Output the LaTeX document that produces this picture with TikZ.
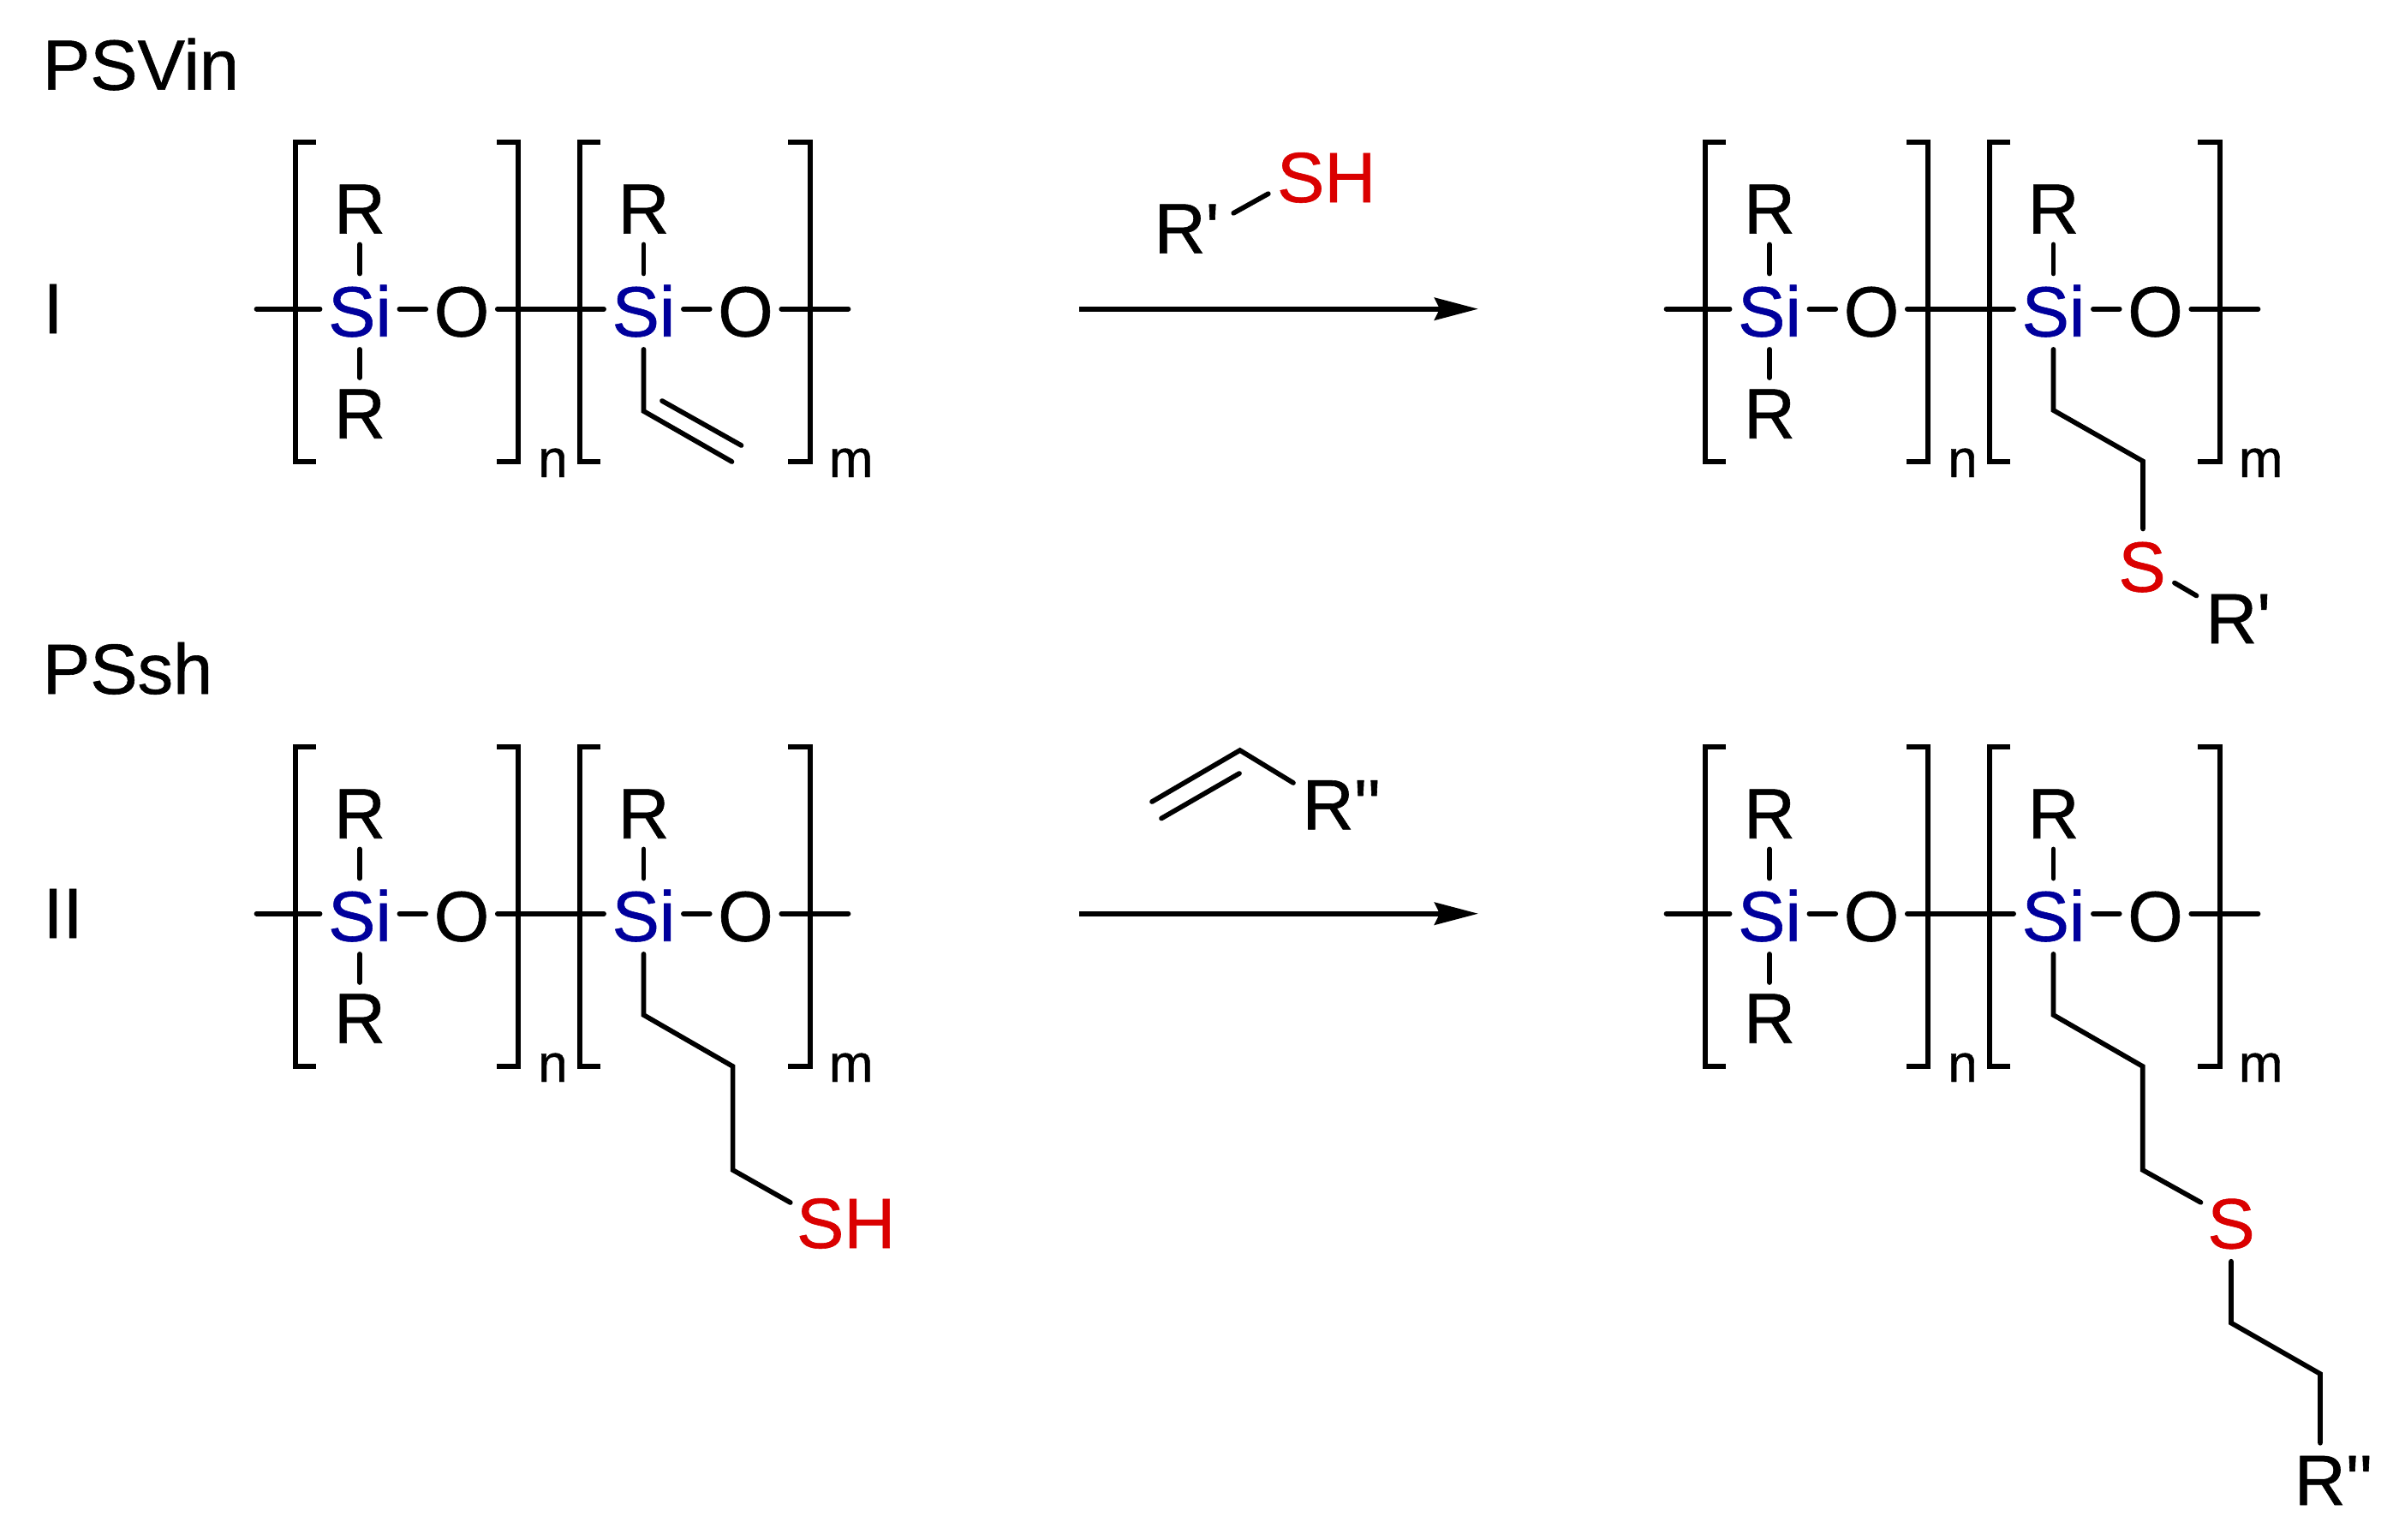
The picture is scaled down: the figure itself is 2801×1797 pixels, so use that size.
\documentclass[tikz,border=0pt]{standalone}
\usepackage{fontspec}
\setmainfont{Liberation Sans}[Ligatures=TeXOff,FakeBold=0.7]
\usetikzlibrary{arrows.meta}
\definecolor{siblue}{RGB}{0,0,156}
\definecolor{sred}{RGB}{218,0,0}
\tikzset{
  bond/.style={line width=5.7pt,line cap=round,line join=miter},
  brk/.style={line width=5.7pt,line cap=butt,line join=miter},
  txt/.style={inner sep=0pt,font=\fontsize{83pt}{90pt}\selectfont,text height=58pt,text depth=0pt},
  lab/.style={txt,anchor=base west},
  atom/.style={txt,anchor=base,inner xsep=9.3pt,inner ysep=15pt},
  rgrp/.style={txt,anchor=base,inner xsep=9.3pt,inner ysep=12.5pt},
  idx/.style={inner sep=0pt,anchor=base,font=\fontsize{62pt}{70pt}\selectfont},
  rxn/.style={line width=6pt,-{Stealth[length=51pt,width=26pt,inset=6pt]}},
}
\newcommand{\polyunit}[4]{%
  \begin{scope}[shift={(#2,#3)}]
    \draw[brk] (369,166) -- (345,166) -- (345,539) -- (369,539);
    \draw[brk] (580,166) -- (605.3,166) -- (605.3,539) -- (580,539);
    \draw[brk] (701,166) -- (677,166) -- (677,539) -- (701,539);
    \draw[brk] (920,166) -- (945.7,166) -- (945.7,539) -- (920,539);
    \node[atom,text=siblue] (#1sa) at (420,392.7) {Si};
    \node[atom] (#1oa) at (539,392.7) {O};
    \node[atom,text=siblue] (#1sb) at (751.5,392.7) {Si};
    \node[atom] (#1ob) at (870.5,392.7) {O};
    \node[rgrp] (#1ra) at (420,272.7) {R};
    \node[rgrp] (#1rb) at (420,511.7) {R};
    \node[rgrp] (#1rc) at (751.5,272.7) {R};
    \node[idx] (#1n) at (645.5,557) {n};
    \node[idx] (#1m) at (993.7,557) {m};
    \coordinate (#1a) at (299.5,360.7);
    \coordinate (#1b) at (990.5,360.7);
    \draw[bond] (#1a) -- (#1a -| #1sa.west);
    \draw[bond] (#1sa.east |- #1a) -- (#1oa.west |- #1a);
    \draw[bond] (#1oa.east |- #1a) -- (#1sb.west |- #1a);
    \draw[bond] (#1sb.east |- #1a) -- (#1ob.west |- #1a);
    \draw[bond] (#1ob.east |- #1a) -- (#1b);
    \draw[bond] (#1sa.north) -- (#1ra.south);
    \draw[bond] (#1sa.south) -- (#1rb.north);
    \draw[bond] (#1sb.north) -- (#1rc.south);
    #4
  \end{scope}}
\begin{document}
\begin{tikzpicture}[x=1pt,y=-1pt]
\useasboundingbox (0,0) rectangle (2801,1797);
\fill[white] (0,0) rectangle (2801,1797);
% row labels
\node[lab] (psvin) at (49.7,104.7) {PSVin};
\node[lab] (pssh) at (49.7,810) {PSsh};
\node[lab] (one) at (50.3,389) {I};
\node[lab] (two) at (50.3,1095) {II};
% reactant I
\polyunit{a}{0}{0}{
  \coordinate (av1) at (751.5,480);
  \coordinate (av2) at (854.5,539);
  \coordinate (av3) at (773,468);
  \coordinate (av4) at (865.5,520);
  \draw[bond] (asb.south) -- (av1) -- (av2);
  \draw[bond] (av3) -- (av4);
}
% product I
\polyunit{b}{1646}{0}{
  \coordinate (bv1) at (751.5,479);
  \coordinate (bv2) at (856,538.5);
  \node[atom,text=sred] (bs) at (855,690.7) {S};
  \node[lab] (brp) at (929.2,751) {R'};
  \draw[bond] (bsb.south) -- (bv1) -- (bv2) -- (bv2 |- bs.north);
  \draw[bond] ([shift={(37.9,-10.2)}]bs.base) -- ([shift={(-10.7,-55.5)}]brp.base west);
}
% reactant II
\polyunit{c}{0}{706}{
  \coordinate (cv1) at (751.5,479);
  \coordinate (cv2) at (855.6,539);
  \coordinate (cv3) at (855.6,660);
  \node[lab,text=sred] (csh) at (929.8,751) {SH};
  \draw[bond] (csb.south) -- (cv1) -- (cv2) -- (cv3) -- ([shift={(-7,-53)}]csh.base west);
}
% product II
\polyunit{d}{1646}{706}{
  \coordinate (dv1) at (751.5,479);
  \coordinate (dv2) at (855.7,539);
  \coordinate (dv3) at (855.7,660);
  \coordinate (dv4) at (959,838.6);
  \coordinate (dv5) at (1063,898);
  \node[atom,text=sred] (ds) at (959,751.5) {S};
  \node[lab,inner ysep=14pt] (drpp) at (1032.5,1051) {R''};
  \draw[bond] (dsb.south) -- (dv1) -- (dv2) -- (dv3) -- ([shift={(-35.5,-53.7)}]ds.base);
  \draw[bond] (ds.south) -- (dv4) -- (dv5) -- (dv5 |- drpp.north);
}
% reagent 1
\node[lab] (rp) at (1347.5,295.7) {R'};
\node[lab,text=sred] (sh) at (1490.8,236) {SH};
\draw[bond] ([shift={(92.7,-46.9)}]rp.base west) -- ([shift={(-10,-9.8)}]sh.base west);
% reagent 2
\node[lab] (rpp) at (1520.5,968.3) {R''};
\coordinate (rv1) at (1345,936);
\coordinate (rv2) at (1447.7,876);
\coordinate (rv3) at (1356,955.5);
\coordinate (rv4) at (1447,903);
\draw[bond] (rv1) -- (rv2) -- ([shift={(-10.5,-54.3)}]rpp.base west);
\draw[bond] (rv3) -- (rv4);
% arrows
\coordinate (ar1s) at (1260,360.7);
\coordinate (ar1e) at (1726,360.7);
\coordinate (ar2s) at (1260,1066.7);
\coordinate (ar2e) at (1726,1066.7);
\draw[rxn] (ar1s) -- (ar1e);
\draw[rxn] (ar2s) -- (ar2e);
\end{tikzpicture}
\end{document}
